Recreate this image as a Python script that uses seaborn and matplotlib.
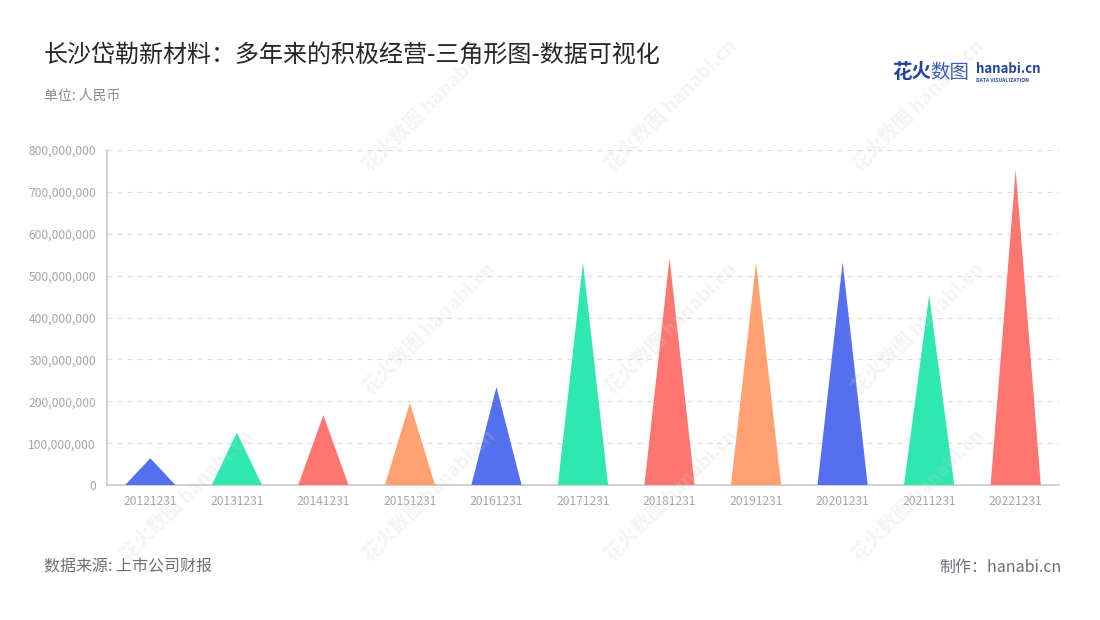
import matplotlib
matplotlib.use("Agg")
import matplotlib.pyplot as plt
import seaborn as sns
from matplotlib.patches import Polygon
from matplotlib.ticker import FuncFormatter, MultipleLocator

# ------------------------------------------
# Data
# ------------------------------------------
report_dates = ["20121231", "20131231", "20141231", "20151231", "20161231", "20171231",
                "20181231", "20191231", "20201231", "20211231", "20221231"]
values = [64e6, 125e6, 167e6, 196e6, 234e6, 531e6, 541e6, 531e6, 532e6, 453e6, 753e6]
palette = ["#5470ee", "#2ee8b0", "#ff7670", "#ffa170"]

title = "长沙岱勒新材料：多年来的积极经营-三角形图-数据可视化"
unit_text = "单位: 人民币"
source_text = "数据来源: 上市公司财报"
credit_text = "制作：hanabi.cn"

# ------------------------------------------
# Style
# ------------------------------------------
sns.set_theme(style="white")
plt.rcParams["font.family"] = ["Noto Sans CJK SC", "DejaVu Sans"]

fig = plt.figure(figsize=(11, 6.2), dpi=100)
ax = fig.add_axes([0.0973, 0.2177, 0.8654, 0.5403])

colors = [palette[i % len(palette)] for i in range(len(values))]
sns.barplot(x=report_dates, y=values, hue=report_dates, palette=colors,
            width=0.58, saturation=1, legend=False, ax=ax)

# turn each bar into a triangle
for patch in list(ax.patches):
    x0 = patch.get_x()
    w = patch.get_width()
    h = patch.get_height()
    tri = Polygon([[x0, 0], [x0 + w / 2, h], [x0 + w, 0]], closed=True,
                  facecolor=patch.get_facecolor(), edgecolor="none", zorder=3)
    ax.add_patch(tri)
    patch.remove()

ax.set_xlim(-0.5, len(values) - 0.5)
ax.set_ylim(0, 800e6)
ax.yaxis.set_major_locator(MultipleLocator(100e6))
ax.yaxis.set_major_formatter(FuncFormatter(lambda v, p: f"{int(v):,}"))

for v in range(1, 9):
    ax.axhline(v * 100e6, color="#dddddd", lw=0.9, ls=(0, (4, 4)), zorder=1)

for side in ["top", "right"]:
    ax.spines[side].set_visible(False)
for side in ["left", "bottom"]:
    ax.spines[side].set_color("#c8c8c8")
    ax.spines[side].set_linewidth(1.2)

ax.tick_params(axis="both", colors="#c8c8c8", labelcolor="#a3a6b0",
               labelsize=8.7, length=4, width=1)
ax.tick_params(axis="y", pad=4)
ax.tick_params(axis="x", pad=3)
ax.set_xlabel("")
ax.set_ylabel("")

# ------------------------------------------
# Watermarks
# ------------------------------------------
for wx in [0.39, 0.61, 0.835]:
    for wy in [0.83, 0.47]:
        fig.text(wx, wy, "花火数图 hanabi.cn", rotation=45, fontsize=14,
                 color="#cccccc", alpha=0.22, ha="center", va="center",
                 fontweight="bold", zorder=0)
for wx in [0.17, 0.39, 0.61, 0.835]:
    fig.text(wx, 0.2, "花火数图 hanabi.cn", rotation=45, fontsize=14,
             color="#cccccc", alpha=0.22, ha="center", va="center",
             fontweight="bold", zorder=0)

# ------------------------------------------
# Texts
# ------------------------------------------
fig.text(0.04, 0.912, title, fontsize=17.3, color="#262626", va="center")
fig.text(0.04, 0.845, unit_text, fontsize=10, color="#8a8a95", va="center")
fig.text(0.04, 0.085, source_text, fontsize=11.5, color="#6e6e78", va="center")
fig.text(0.965, 0.085, credit_text, fontsize=11.5, color="#6e6e78",
         va="center", ha="right")

# logo
fig.text(0.811, 0.883, "花火", fontsize=14, color="#22449c",
         fontweight="bold", va="center")
fig.text(0.846, 0.883, "数图", fontsize=14, color="#3a5fbf", va="center")
fig.text(0.887, 0.888, "hanabi.cn", fontsize=9.5, color="#22449c",
         fontweight="bold", va="center")
fig.text(0.8875, 0.87, "DATA VISUALIZATION", fontsize=3.6, color="#22449c",
         fontweight="bold", va="center")

fig.savefig("out.png", dpi=100)
